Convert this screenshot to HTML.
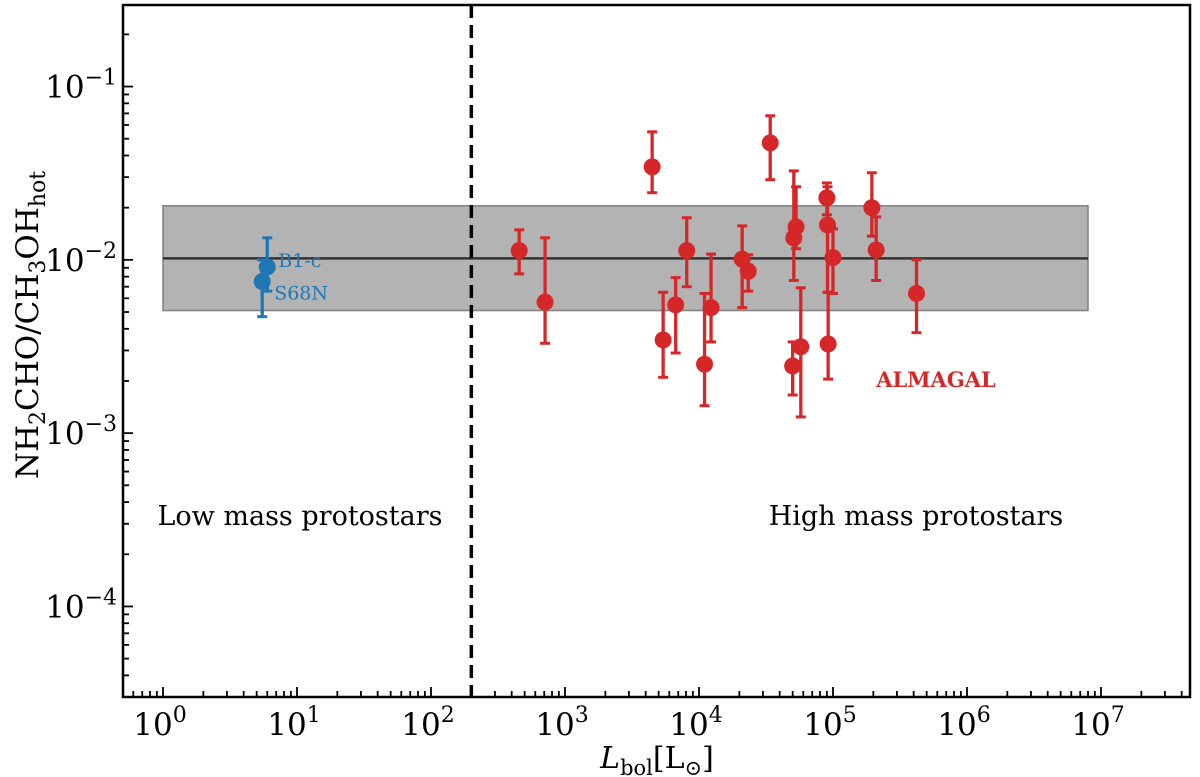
<!DOCTYPE html>
<html><head><meta charset="utf-8"><style>
html,body{margin:0;padding:0;background:#fff;}
svg{display:block;font-family:"DejaVu Serif","Liberation Serif",serif;}
</style></head><body>
<svg id="chart" width="1200" height="777" viewBox="0 0 1200 777" xmlns="http://www.w3.org/2000/svg"></svg>
<script>
const redX=[455,710,4470,5400,6700,8100,11000,12300,21000,23300,34000,50000,51000,53000,57500,90000,91000,92000,100000,195000,210000,420000];
const redY=[0.0113,0.0057,0.0344,0.00345,0.0055,0.0113,0.0025,0.0053,0.0101,0.0086,0.0473,0.00244,0.0134,0.0155,0.00315,0.0228,0.0159,0.00327,0.0103,0.020,0.0114,0.0064];
const redHi=[0.0149,0.0134,0.0548,0.0065,0.0079,0.0175,0.0064,0.0108,0.0157,0.0107,0.0678,0.00336,0.0326,0.0264,0.0069,0.0278,0.0264,0.0065,0.0151,0.0318,0.0177,0.0100];
const redLo=[0.0083,0.0033,0.0244,0.0021,0.0029,0.0070,0.00144,0.00336,0.0053,0.0066,0.029,0.00166,0.0076,0.0116,0.00124,0.0182,0.0065,0.00205,0.0064,0.0137,0.0076,0.0038];
const blueNames=["B1-c","S68N"];
const blueX=[6.0,5.5];
const blueY=[0.0091,0.0075];
const blueHi=[0.0134,0.0100];
const blueLo=[0.0066,0.0047];
const bandLo=0.0051, bandMid=0.0102, bandHi=0.0205, bandX0=1, bandX1=8e6;
const divideX=200;
const xTickExp=[0,1,2,3,4,5,6,7];
const yTickExp=[-4,-3,-2,-1];

const L=123,R=1190,T=5,B=697;
const xLogMin=Math.log10(1)-(163-L)/134, xLogMax=(R-163)/134;
const yLogMin=-4-(B-606.5)/173.2, yLogMax=-1+(86.5-T)/173.2;
const sx=v=>L+(Math.log10(v)-xLogMin)/(xLogMax-xLogMin)*(R-L);
const sy=v=>B-(Math.log10(v)-yLogMin)/(yLogMax-yLogMin)*(B-T);
const svg=document.getElementById('chart');
const NS='http://www.w3.org/2000/svg';
function mk(tag,attrs,parent){const e=document.createElementNS(NS,tag);for(const k in attrs)e.setAttribute(k,attrs[k]);(parent||svg).appendChild(e);return e;}

let e=mk('rect',{x:sx(bandX0),y:sy(bandHi),width:sx(bandX1)-sx(bandX0),height:sy(bandLo)-sy(bandHi),fill:'#b3b3b3',stroke:'#808080','stroke-width':1.5});


e=mk('line',{x1:sx(bandX0),x2:sx(bandX1),y1:sy(bandMid),y2:sy(bandMid),stroke:'#333','stroke-width':2.5});


e=mk('line',{x1:sx(divideX),x2:sx(divideX),y1:T,y2:B,stroke:'#000','stroke-width':3.5,'stroke-dasharray':'13,7'});



function pt(x,y,hi,lo,col,name){
  const g=mk('g',{});
  
  
  const cx=sx(x);
  mk('line',{x1:cx,x2:cx,y1:sy(hi),y2:sy(lo),stroke:col,'stroke-width':3.3},g);
  mk('line',{x1:cx-5,x2:cx+5,y1:sy(hi),y2:sy(hi),stroke:col,'stroke-width':3},g);
  mk('line',{x1:cx-5,x2:cx+5,y1:sy(lo),y2:sy(lo),stroke:col,'stroke-width':3},g);
  mk('circle',{cx:cx,cy:sy(y),r:8.5,fill:col},g);
}
for(let i=0;i<redX.length;i++)pt(redX[i],redY[i],redHi[i],redLo[i],'#d62728','almagal-point');
for(let i=0;i<blueX.length;i++)pt(blueX[i],blueY[i],blueHi[i],blueLo[i],'#1f77b4','low-mass-point');
const bl=[[sx(blueX[0])+11,sy(blueY[0])],[sx(blueX[1])+12,sy(blueY[1])+18]];
for(let i=0;i<2;i++){e=mk('text',{x:bl[i][0],y:bl[i][1],fill:'#1f77b4','font-size':19});e.textContent=blueNames[i];

}

e=mk('rect',{x:L,y:T,width:R-L,height:B-T,fill:'none',stroke:'#000','stroke-width':2.5});


for(let d=-1;d<=7;d++){for(let m=1;m<10;m++){const v=m*Math.pow(10,d);const px=sx(v);if(px<L||px>R)continue;const len=m===1?10:6;
mk('line',{x1:px,x2:px,y1:B,y2:B-len,stroke:'#000','stroke-width':1.8});}}
for(const ex of xTickExp){e=mk('text',{x:sx(Math.pow(10,ex))-3,y:B+38,'text-anchor':'middle','font-size':31});
e.innerHTML='10<tspan dy="-13" font-size="22">'+ex+'</tspan>';

}
for(let d=-5;d<=0;d++){for(let m=1;m<10;m++){const v=m*Math.pow(10,d);const py=sy(v);if(py<T||py>B)continue;const len=m===1?10:6;
mk('line',{x1:L,x2:L+len,y1:py,y2:py,stroke:'#000','stroke-width':1.8});}}
for(const ex of yTickExp){e=mk('text',{x:L-6,y:sy(Math.pow(10,ex))+11,'text-anchor':'end','font-size':31});
e.innerHTML='10<tspan dy="-13" font-size="22">\u2212'+(-ex)+'</tspan>';

}

e=mk('text',{x:657,y:768,'text-anchor':'middle','font-size':30});
e.innerHTML='<tspan font-style="italic">L</tspan><tspan font-size="21" dy="7">bol</tspan><tspan dy="-7">[L</tspan><tspan font-size="21" dy="7">\u2299</tspan><tspan dy="-7">]</tspan>';


e=mk('text',{transform:'translate(38,325) rotate(-90)','text-anchor':'middle','font-size':31});
e.innerHTML='NH<tspan font-size="22" dy="7">2</tspan><tspan dy="-7">CHO/CH</tspan><tspan font-size="22" dy="7">3</tspan><tspan dy="-7">OH</tspan><tspan font-size="22" dy="7">hot</tspan>';


e=mk('text',{x:300,y:525,'text-anchor':'middle','font-size':27});e.textContent='Low mass protostars';


e=mk('text',{x:916,y:525,'text-anchor':'middle','font-size':27});e.textContent='High mass protostars';


e=mk('text',{x:936,y:387,'text-anchor':'middle','font-size':21,'font-weight':'bold',fill:'#d62728'});e.textContent='ALMAGAL';


</script>
</body></html>
